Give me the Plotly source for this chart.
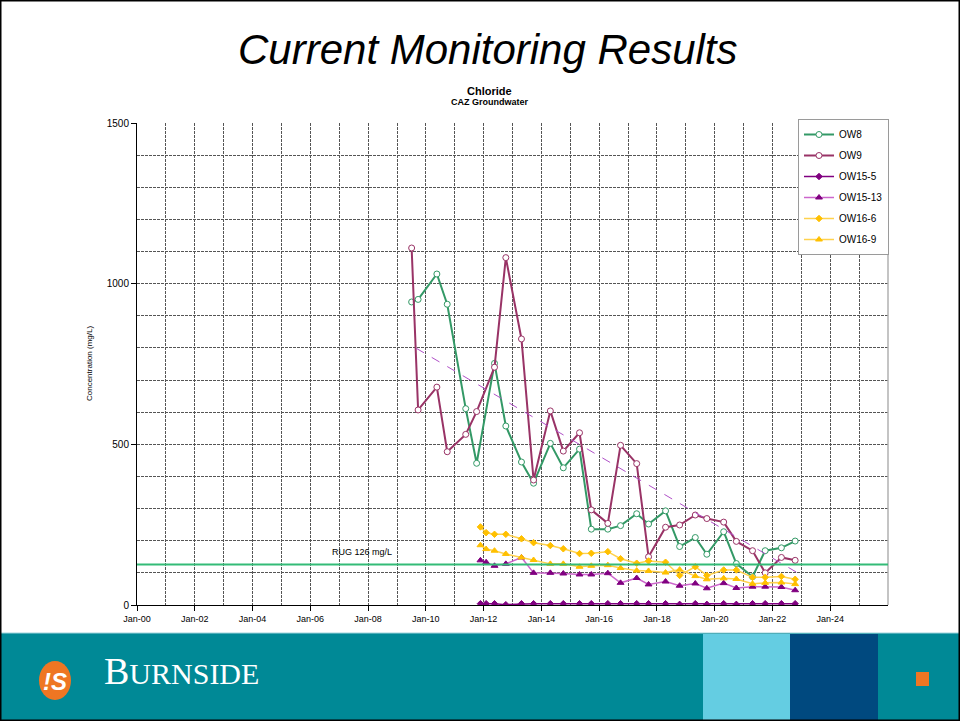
import plotly.graph_objects as go

# ---------------- data ----------------
DATES_OW8_OW9 = [
    "2009-07-05", "2009-09-25", "2010-05-20", "2010-09-28", "2011-05-20", "2011-10-05",
    "2012-05-18", "2012-10-08", "2013-04-24", "2013-09-24", "2014-04-24", "2014-10-05",
    "2015-04-28", "2015-09-24", "2016-04-20", "2016-09-28", "2017-04-20", "2017-09-17",
    "2018-04-20", "2018-10-15", "2019-05-01", "2019-09-24", "2020-04-24", "2020-10-01",
    "2021-04-24", "2021-10-01", "2022-04-24", "2022-10-15",
]
OW8 = [943, 951, 1030, 936, 611, 441, 752, 557, 445, 379, 503, 427, 485, 236,
       236, 247, 284, 252, 293, 182, 210, 158, 228, 129, 88, 169, 178, 199]
OW9 = [1111, 607, 678, 477, 531, 602, 740, 1081, 828, 389, 604, 479, 536, 296,
       254, 497, 440, 150, 242, 249, 280, 269, 258, 198, 169, 100, 148, 139]

DATES_OW15_OW16 = [
    "2011-11-22", "2012-02-02", "2012-05-18", "2012-10-08", "2013-04-24", "2013-09-24",
    "2014-04-24", "2014-10-05", "2015-04-28", "2015-09-24", "2016-04-20", "2016-09-28",
    "2017-04-20", "2017-09-17", "2018-04-20", "2018-10-15", "2019-05-01", "2019-09-24",
    "2020-04-24", "2020-10-01", "2021-04-24", "2021-10-01", "2022-04-24", "2022-10-15",
]
OW15_5 = [4, 4, 4, 1, 4, 4, 4, 4, 4, 4, 4, 4, 4, 4, 4, 2, 4, 2, 4, 2, 4, 4, 4, 4]
OW15_13 = [139, 133, 122, 128, 148, 100, 100, 98, 95, 95, 99, 69,
           84, 64, 73, 60, 67, 52, 68, 53, 57, 57, 56, 46]
OW16_6 = [243, 225, 220, 220, 206, 194, 185, 175, 160, 161, 166, 144,
          130, 137, 133, 92, 119, 92, 109, 109, 86, 86, 89, 80]
OW16_9 = [186, 174, 169, 159, 148, 140, 128, 128, 119, 122, 124, 115,
          107, 106, 101, 110, 90, 80, 83, 81, 66, 69, 70, 65]

TREND_DATES = ["2009-09-01", "2022-11-01"]
TREND_OW9 = [799, 102]

RUG_VALUE = 126
RUG_LABEL = "RUG 126 mg/L"

X_TICK_DATES = ["2000-01-01", "2002-01-01", "2004-01-01", "2006-01-01", "2008-01-01",
                "2010-01-01", "2012-01-01", "2014-01-01", "2016-01-01", "2018-01-01",
                "2020-01-01", "2022-01-01", "2024-01-01"]
X_TICK_LABELS = ["Jan-00", "Jan-02", "Jan-04", "Jan-06", "Jan-08", "Jan-10", "Jan-12",
                 "Jan-14", "Jan-16", "Jan-18", "Jan-20", "Jan-22", "Jan-24"]
Y_TICKS = [0, 500, 1000, 1500]

# ---------------- layout helpers ----------------
W, H = 960, 721


def px(x):
    return x / W


def py(y):
    return 1 - y / H


FONT = "Liberation Sans, Arial, sans-serif"
SERIF = "Liberation Serif, DejaVu Serif, serif"

fig = go.Figure()


def add_series(name, x, y, line_color, line_width, symbol, mcolor, mline, msize):
    fig.add_trace(go.Scatter(
        x=x, y=y, name=name, legendgroup=name, mode="lines+markers",
        line=dict(color=line_color, width=line_width),
        marker=dict(symbol=symbol, color=mcolor, size=msize,
                    line=dict(color=mline, width=1)),
    ))


add_series("OW8", DATES_OW8_OW9, OW8, "#339966", 2, "circle", "white", "#339966", 6)
add_series("OW9", DATES_OW8_OW9, OW9, "#993366", 2, "circle", "white", "#993366", 6)
add_series("OW15-5", DATES_OW15_OW16, OW15_5, "#800080", 1.5, "diamond", "#800080", "#800080", 5)
add_series("OW15-13", DATES_OW15_OW16, OW15_13, "#CC66CC", 1.5, "triangle-up", "#800080", "#800080", 6)
add_series("OW16-6", DATES_OW15_OW16, OW16_6, "#FFD24D", 1.5, "diamond", "#FFC000", "#FFC000", 5)
add_series("OW16-9", DATES_OW15_OW16, OW16_9, "#FFD24D", 1.5, "triangle-up", "#FFC000", "#FFC000", 6)

fig.add_trace(go.Scatter(
    x=TREND_DATES, y=TREND_OW9, mode="lines", showlegend=False, hoverinfo="skip",
    line=dict(color="#B050C8", width=1, dash="dash"),
))

grid_color = "#555555"

fig.update_layout(
    width=W, height=H, autosize=False,
    margin=dict(l=0, r=0, t=0, b=0, pad=0, autoexpand=False),
    paper_bgcolor="white", plot_bgcolor="white",
    font=dict(family=FONT, color="black"),
    xaxis=dict(
        domain=[px(137), px(888)],
        type="date", automargin=False,
        range=["2000-01-01", "2026-01-01"],
        tickmode="array", tickvals=X_TICK_DATES, ticktext=X_TICK_LABELS,
        tickfont=dict(size=9, family=FONT, color="black"),
        ticks="outside", ticklen=5, tickcolor="black",
        showline=True, linecolor="black", linewidth=1,
        showgrid=True, gridcolor=grid_color, griddash="3px,1px", gridwidth=1,
        minor=dict(dtick="M12", tick0="2000-01-01", showgrid=True,
                   gridcolor=grid_color, griddash="3px,1px", gridwidth=1),
        zeroline=False, fixedrange=True,
    ),
    yaxis=dict(
        domain=[py(605), py(123)],
        range=[0, 1500], automargin=False,
        tickmode="array", tickvals=Y_TICKS,
        tickfont=dict(size=10, family=FONT, color="black"),
        ticks="outside", ticklen=5, tickcolor="black",
        showline=True, linecolor="black", linewidth=1,
        showgrid=True, gridcolor=grid_color, griddash="3px,1px", gridwidth=1,
        minor=dict(dtick=100, tick0=0, showgrid=True,
                   gridcolor=grid_color, griddash="3px,1px", gridwidth=1),
        zeroline=False, fixedrange=True,
    ),
    legend=dict(
        x=px(889), xanchor="right", y=py(119), yanchor="top",
        bgcolor="white", bordercolor="#9a9a9a", borderwidth=1,
        font=dict(size=10, family=FONT, color="black"),
        itemwidth=30, traceorder="grouped", tracegroupgap=2,
    ),
    showlegend=True,
)

shapes = [
    # right plot border
    dict(type="line", xref="paper", yref="paper", x0=px(888), x1=px(888),
         y0=py(605), y1=py(123), line=dict(color="#b0b0b0", width=1.5)),
    # RUG line
    dict(type="line", xref="x domain", yref="y", x0=0, x1=1, y0=RUG_VALUE, y1=RUG_VALUE,
         line=dict(color="#33BB77", width=2)),
    # footer band
    dict(type="rect", xref="paper", yref="paper", x0=0, x1=1, y0=0, y1=py(633),
         fillcolor="#008996", line=dict(width=0), layer="above"),
    dict(type="line", xref="paper", yref="paper", x0=0, x1=1, y0=py(633), y1=py(633),
         line=dict(color="#9fd4dc", width=1), layer="above"),
    dict(type="rect", xref="paper", yref="paper", x0=px(703), x1=px(790), y0=0, y1=py(634),
         fillcolor="#64CDE2", line=dict(width=0), layer="above"),
    dict(type="rect", xref="paper", yref="paper", x0=px(790), x1=px(878), y0=0, y1=py(634),
         fillcolor="#00497F", line=dict(width=0), layer="above"),
    dict(type="rect", xref="paper", yref="paper", x0=px(916), x1=px(929), y0=py(686), y1=py(672),
         fillcolor="#EE7623", line=dict(width=0), layer="above"),
    # logo ellipse
    dict(type="circle", xref="paper", yref="paper", x0=px(39), x1=px(71), y0=py(700), y1=py(661),
         fillcolor="#EE7623", line=dict(width=0), layer="above"),
    # slide frame
    dict(type="rect", xref="paper", yref="paper", x0=0, x1=1, y0=0, y1=1,
         line=dict(color="black", width=3), layer="above"),
]
fig.update_layout(shapes=shapes)

annotations = [
    dict(text="<i>Current Monitoring Results</i>", x=px(488), y=py(50), xref="paper", yref="paper",
         showarrow=False, font=dict(size=42, family=FONT, color="black"),
         xanchor="center", yanchor="middle"),
    dict(text="<b>Chloride</b>", x=px(490), y=py(91), xref="paper", yref="paper",
         showarrow=False, font=dict(size=11, family=FONT, color="black"),
         xanchor="center", yanchor="middle"),
    dict(text="<b>CAZ Groundwater</b>", x=px(490), y=py(102), xref="paper", yref="paper",
         showarrow=False, font=dict(size=9, family=FONT, color="black"),
         xanchor="center", yanchor="middle"),
    dict(text="Concentration (mg/L)", x=px(89), y=py(364), xref="paper", yref="paper",
         showarrow=False, textangle=-90, font=dict(size=8, family=FONT, color="black"),
         xanchor="center", yanchor="middle"),
    dict(text=RUG_LABEL, x=px(362), y=py(552), xref="paper", yref="paper",
         showarrow=False, font=dict(size=9, family=FONT, color="black"),
         xanchor="center", yanchor="middle"),
    dict(text="<b><i>!S</i></b>", x=px(55), y=py(681), xref="paper", yref="paper",
         showarrow=False, font=dict(size=24, family=FONT, color="white"),
         xanchor="center", yanchor="middle"),
    dict(text="<span style='font-size:38px'>B</span>URNSIDE", x=px(102), y=py(694),
         xref="paper", yref="paper", showarrow=False,
         font=dict(size=30, family=SERIF, color="white"),
         xanchor="left", yanchor="bottom"),
]
fig.update_layout(annotations=annotations)

fig.write_html(
    "out.html",
    config={"displayModeBar": False},
    post_script="document.body.style.margin='0';document.body.style.overflow='hidden';",
)
